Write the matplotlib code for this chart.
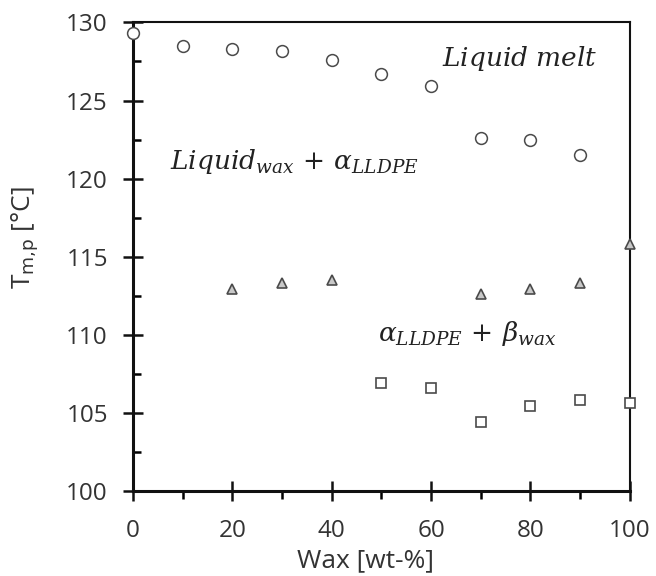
import matplotlib
matplotlib.use("Agg")
import matplotlib.pyplot as plt
from matplotlib.ticker import MultipleLocator

# melting peak temperatures vs wax content
wax_melt = [0, 10, 20, 30, 40, 50, 60, 70, 80, 90]
tm_melt = [129.3, 128.5, 128.3, 128.2, 127.6, 126.7, 125.9, 122.6, 122.5, 121.5]

wax_lldpe = [20, 30, 40, 70, 80, 90, 100]
tm_lldpe = [112.9, 113.3, 113.5, 112.6, 112.9, 113.3, 115.8]

wax_beta = [50, 60, 70, 80, 90, 100]
tm_beta = [106.9, 106.6, 104.4, 105.4, 105.8, 105.6]

plt.rcParams["font.family"] = ["Open Sans", "DejaVu Sans"]
plt.rcParams["mathtext.fontset"] = "dejavuserif"

fig = plt.figure(figsize=(6.56, 5.76), dpi=100)
ax = fig.add_axes([0.203, 0.148, 0.757, 0.813])

edge = "#4a4a4a"
ax.plot(wax_melt, tm_melt, "o", ms=8.5, mfc="white", mec=edge, mew=1.1,
        clip_on=False, zorder=5)
ax.plot(wax_lldpe, tm_lldpe, "^", ms=7, mfc="#c8c8c8", mec=edge, mew=1.2,
        clip_on=False, zorder=5)
ax.plot(wax_beta, tm_beta, "s", ms=7.5, mfc="white", mec=edge, mew=1.2,
        clip_on=False, zorder=5)

ax.set_xlim(0, 100)
ax.set_ylim(100, 130)
ax.xaxis.set_major_locator(MultipleLocator(20))
ax.xaxis.set_minor_locator(MultipleLocator(10))
ax.yaxis.set_major_locator(MultipleLocator(5))
ax.yaxis.set_minor_locator(MultipleLocator(2.5))

for s in ax.spines.values():
    s.set_linewidth(1.5)
    s.set_color("#111111")
ax.spines["left"].set_linewidth(2.2)
ax.spines["bottom"].set_linewidth(2.2)

ax.tick_params(axis="both", which="major", direction="inout", length=14.5,
               width=1.8, labelsize=17.5, colors="#111111", labelcolor="#333333")
ax.tick_params(axis="y", which="major", pad=11)
ax.tick_params(axis="x", which="major", pad=13)
ax.tick_params(axis="y", which="minor", direction="in", length=6, width=1.8)
ax.tick_params(axis="x", which="minor", direction="out", length=6, width=1.8)

ax.set_xlabel("Wax [wt-%]", fontsize=19, color="#333333")
ax.set_ylabel(r"T$_{\mathsf{m{,}p}}$ [°C]", fontsize=19, color="#333333")
ax.xaxis.set_label_coords((366 - 133) / 497, -(548 - 491) / 468.3)
ax.yaxis.set_label_coords(-(133 - 40) / 497, (491 - 238) / 468.3)

txt = dict(fontsize=19, color="#222222")
ax.text(93.5, 127.7, r"$Liquid\ melt$", ha="right", va="center", **txt)
ax.text(7.5, 121.1, r"$Liquid_{wax}\,+\,\alpha_{LLDPE}$", ha="left", va="center", **txt)
ax.text(49.3, 110.1, r"$\alpha_{LLDPE}\,+\,\beta_{wax}$", ha="left", va="center", **txt)

fig.savefig("out.png", dpi=100)
